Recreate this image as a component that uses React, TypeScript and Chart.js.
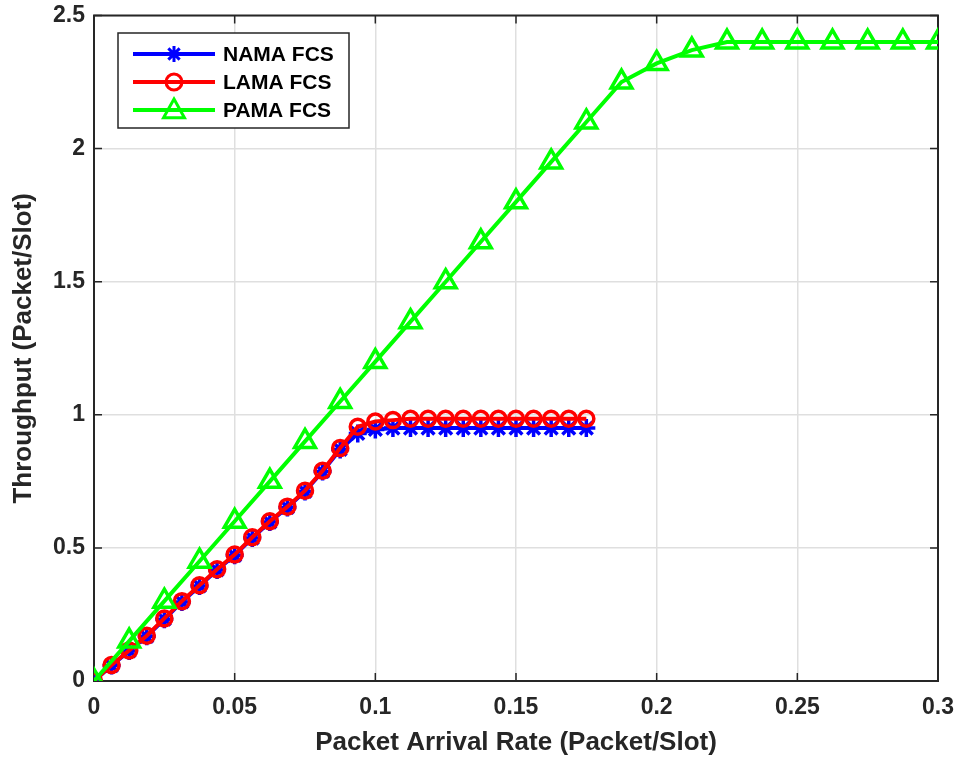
import React, { useEffect, useRef } from "react";
import { Chart, registerables } from "chart.js";

Chart.register(...registerables);

const rateFine = [0, 0.00625, 0.0125, 0.01875, 0.025, 0.03125, 0.0375, 0.04375, 0.05, 0.05625, 0.0625, 0.06875, 0.075, 0.08125, 0.0875, 0.09375, 0.1, 0.10625, 0.1125, 0.11875, 0.125, 0.13125, 0.1375, 0.14375, 0.15, 0.15625, 0.1625, 0.16875, 0.175];
const namaThroughput = [0, 0.058, 0.113, 0.168, 0.232, 0.297, 0.357, 0.417, 0.472, 0.537, 0.597, 0.652, 0.712, 0.787, 0.87, 0.93, 0.945, 0.95, 0.95, 0.95, 0.95, 0.95, 0.95, 0.95, 0.95, 0.95, 0.95, 0.95, 0.95];
const lamaThroughput = [0, 0.06, 0.115, 0.17, 0.235, 0.3, 0.36, 0.42, 0.475, 0.54, 0.6, 0.655, 0.715, 0.79, 0.875, 0.955, 0.975, 0.98, 0.985, 0.985, 0.985, 0.985, 0.985, 0.985, 0.985, 0.985, 0.985, 0.985, 0.985];
const rateCoarse = [0, 0.0125, 0.025, 0.0375, 0.05, 0.0625, 0.075, 0.0875, 0.1, 0.1125, 0.125, 0.1375, 0.15, 0.1625, 0.175, 0.1875, 0.2, 0.2125, 0.225, 0.2375, 0.25, 0.2625, 0.275, 0.2875, 0.3];
const pamaThroughput = [0, 0.15, 0.3, 0.45, 0.6, 0.75, 0.9, 1.05, 1.2, 1.35, 1.5, 1.65, 1.8, 1.95, 2.1, 2.25, 2.32, 2.37, 2.4, 2.4, 2.4, 2.4, 2.4, 2.4, 2.4];

const seriesNames = ["NAMA FCS", "LAMA FCS", "PAMA FCS"];
const seriesColors = ["#0000ff", "#ff0000", "#00ff00"];
const seriesMarkers = ["star", "circle", "triangle"];

const xTicks = [0, 0.05, 0.1, 0.15, 0.2, 0.25, 0.3];
const xTickLabels = ["0", "0.05", "0.1", "0.15", "0.2", "0.25", "0.3"];
const yTicks = [0, 0.5, 1, 1.5, 2, 2.5];
const yTickLabels = ["0", "0.5", "1", "1.5", "2", "2.5"];

const xTitle = "Packet Arrival Rate (Packet/Slot)";
const yTitle = "Throughput (Packet/Slot)";

const FONT = "'Liberation Sans', Arial, sans-serif";
const INK = "#262626";

function drawMarker(ctx: CanvasRenderingContext2D, kind: string, x: number, y: number, r: number, color: string, lw: number) {
  ctx.save();
  ctx.strokeStyle = color;
  ctx.lineWidth = lw;
  ctx.beginPath();
  if (kind === "star") {
    for (let k = 0; k < 4; k++) {
      const a = (k * Math.PI) / 4;
      ctx.moveTo(x - r * Math.cos(a), y - r * Math.sin(a));
      ctx.lineTo(x + r * Math.cos(a), y + r * Math.sin(a));
    }
  } else if (kind === "circle") {
    ctx.arc(x, y, r, 0, Math.PI * 2);
  } else {
    ctx.moveTo(x, y - r);
    ctx.lineTo(x + r * 0.95, y + r * 0.7);
    ctx.lineTo(x - r * 0.95, y + r * 0.7);
    ctx.closePath();
  }
  ctx.stroke();
  ctx.restore();
}

const framePlugin = {
  id: "frame",
  beforeDatasetsDraw(chart: any) {
    const { ctx, chartArea: a, scales } = chart;
    ctx.save();
    ctx.strokeStyle = INK;
    ctx.lineWidth = 1.5;
    ctx.beginPath();
    const tl = 8;
    xTicks.forEach((v) => {
      const px = scales.x.getPixelForValue(v);
      ctx.moveTo(px, a.bottom);
      ctx.lineTo(px, a.bottom - tl);
      ctx.moveTo(px, a.top);
      ctx.lineTo(px, a.top + tl);
    });
    yTicks.forEach((v) => {
      const py = scales.y.getPixelForValue(v);
      ctx.moveTo(a.left, py);
      ctx.lineTo(a.left + tl, py);
      ctx.moveTo(a.right, py);
      ctx.lineTo(a.right - tl, py);
    });
    ctx.stroke();
    ctx.lineWidth = 2;
    ctx.strokeRect(a.left, a.top, a.right - a.left, a.bottom - a.top);
    ctx.restore();
  },
};

const legendPlugin = {
  id: "boxLegend",
  afterDraw(chart: any) {
    const { ctx } = chart;
    const bx = 118, by = 33, bw = 231, bh = 95;
    ctx.save();
    ctx.fillStyle = "#ffffff";
    ctx.fillRect(bx, by, bw, bh);
    ctx.strokeStyle = INK;
    ctx.lineWidth = 1.5;
    ctx.strokeRect(bx, by, bw, bh);
    const rows = [54, 82, 110];
    seriesNames.forEach((name, i) => {
      const y = rows[i];
      ctx.strokeStyle = seriesColors[i];
      ctx.lineWidth = 4;
      ctx.beginPath();
      ctx.moveTo(133, y);
      ctx.lineTo(215, y);
      ctx.stroke();
      drawMarker(ctx, seriesMarkers[i], 174, y, seriesMarkers[i] === "triangle" ? 11 : 8, seriesColors[i], 3);
      ctx.fillStyle = "#000000";
      ctx.font = `bold 21px ${FONT}`;
      ctx.textAlign = "left";
      ctx.textBaseline = "middle";
      ctx.fillText(name, 223, y + 1);
    });
    ctx.restore();
  },
};

export default function App() {
  const ref = useRef<HTMLCanvasElement | null>(null);
  useEffect(() => {
    if (!ref.current) return;
    const mk = (xs: number[], ys: number[]) => xs.map((x, i) => ({ x, y: ys[i] }));
    const chart = new Chart(ref.current, {
      type: "line",
      data: {
        datasets: [
          {
            label: seriesNames[0],
            data: mk(rateFine, namaThroughput),
            borderColor: seriesColors[0],
            backgroundColor: "rgba(0,0,0,0)",
            borderWidth: 4,
            pointStyle: "star",
            pointRadius: 9,
            pointBorderWidth: 3.5,
            pointBorderColor: seriesColors[0],
            order: 2,
          },
          {
            label: seriesNames[1],
            data: mk(rateFine, lamaThroughput),
            borderColor: seriesColors[1],
            backgroundColor: "rgba(0,0,0,0)",
            borderWidth: 4,
            pointStyle: "circle",
            pointRadius: 7.5,
            pointBorderWidth: 3.5,
            pointBorderColor: seriesColors[1],
            order: 1,
          },
          {
            label: seriesNames[2],
            data: mk(rateCoarse, pamaThroughput),
            borderColor: seriesColors[2],
            backgroundColor: "rgba(0,0,0,0)",
            borderWidth: 4,
            pointStyle: "triangle",
            pointRadius: 12,
            pointBorderWidth: 3.5,
            pointBorderColor: seriesColors[2],
            order: 0,
          },
        ],
      },
      options: {
        animation: false,
        responsive: false,
        layout: { padding: { top: 8, right: 22, left: 0, bottom: 0 } },
        plugins: { legend: { display: false }, tooltip: { enabled: false }, title: { display: false } },
        elements: { line: { tension: 0 } },
        scales: {
          x: {
            type: "linear",
            min: 0,
            max: 0.3,
            afterFit: (s: any) => { s.height = 79; s.paddingLeft = 0; s.paddingRight = 0; },
            afterBuildTicks: (s: any) => { s.ticks = xTicks.map((v) => ({ value: v })); },
            ticks: {
              callback: (v: any) => xTickLabels[xTicks.indexOf(Number(v))] ?? "",
              color: INK,
              font: { family: FONT, size: 23, weight: "bold" },
              padding: 13,
              maxRotation: 0,
            },
            grid: { color: "#dfdfdf", lineWidth: 1.5, drawTicks: false },
            border: { display: false },
            title: {
              display: true,
              text: xTitle,
              color: INK,
              font: { family: FONT, size: 26, weight: "bold" },
              padding: { top: 0, bottom: 2 },
            },
          },
          y: {
            type: "linear",
            min: 0,
            max: 2.5,
            afterFit: (s: any) => { s.width = 94; s.paddingTop = 0; s.paddingBottom = 0; },
            afterBuildTicks: (s: any) => { s.ticks = yTicks.map((v) => ({ value: v })); },
            ticks: {
              callback: (v: any) => yTickLabels[yTicks.indexOf(Number(v))] ?? "",
              color: INK,
              font: { family: FONT, size: 23, weight: "bold" },
              padding: 9,
            },
            grid: { color: "#dfdfdf", lineWidth: 1.5, drawTicks: false },
            border: { display: false },
            title: {
              display: true,
              text: yTitle,
              color: INK,
              font: { family: FONT, size: 26, weight: "bold" },
              padding: { top: 8, bottom: 0 },
            },
          },
        },
      },
      plugins: [framePlugin, legendPlugin],
    } as any);
    return () => chart.destroy();
  }, []);
  return (
    <div style={{ position: "absolute", left: 0, top: 0, width: 960, height: 760, background: "#ffffff" }}>
      <canvas ref={ref} width={960} height={760} style={{ display: "block" }} />
    </div>
  );
}
